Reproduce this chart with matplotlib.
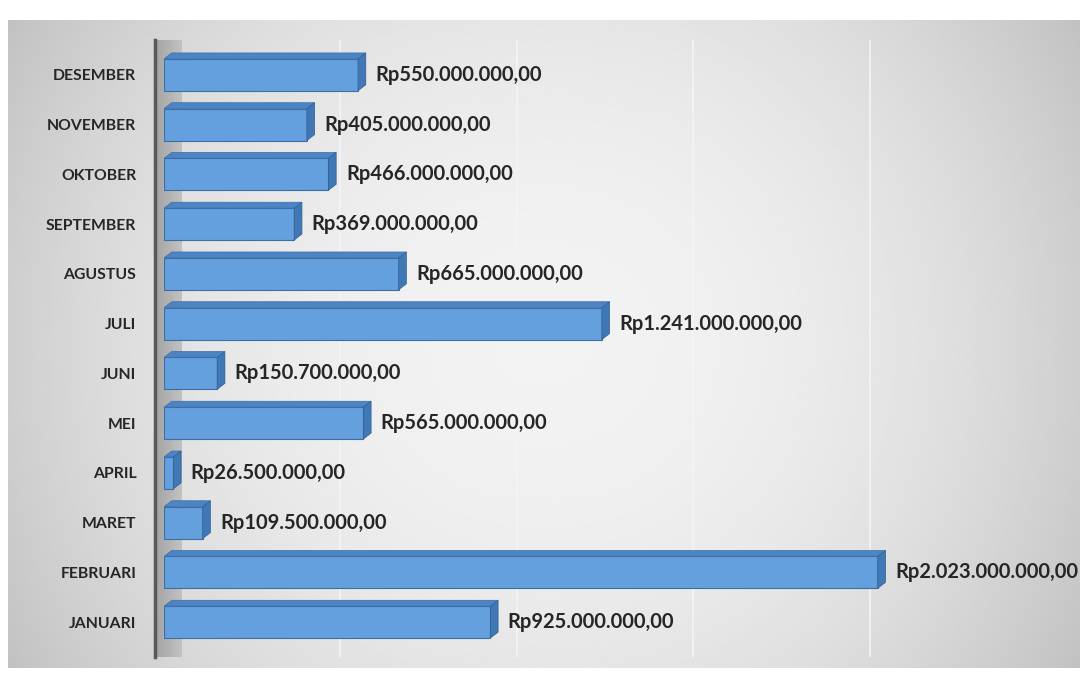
import numpy as np
import matplotlib
matplotlib.use("Agg")
import matplotlib.pyplot as plt
from matplotlib.patches import Polygon
from matplotlib.lines import Line2D

months = ["JANUARI", "FEBRUARI", "MARET", "APRIL", "MEI", "JUNI",
          "JULI", "AGUSTUS", "SEPTEMBER", "OKTOBER", "NOVEMBER", "DESEMBER"]
values = [925.0e6, 2023.0e6, 109.5e6, 26.5e6, 565.0e6, 150.7e6,
          1241.0e6, 665.0e6, 369.0e6, 466.0e6, 405.0e6, 550.0e6]


def rupiah(v):
    s = f"{v:,.2f}"
    return "Rp" + s.replace(",", "X").replace(".", ",").replace("X", ".")


W, H = 1085, 681
fig = plt.figure(figsize=(W / 100, H / 100), dpi=100)
fig.patch.set_facecolor("white")

# grey gradient chart area
bg = fig.add_axes([8 / W, 1 - 668 / H, (1080 - 8) / W, (668 - 20) / H])
gx = np.linspace(-1, 1, 400)
gy = np.linspace(-1, 1, 250)
X, Y = np.meshgrid(gx, gy)
shade = 0.95 - 0.14 * np.abs(X) ** 2.2 - 0.05 * np.abs(Y) ** 2
bg.imshow(shade, cmap="gray", vmin=0, vmax=1, aspect="auto",
          extent=[0, 1, 0, 1])
bg.set_axis_off()

top_px, bot_px = 40, 657

# side wall strip
wall = fig.add_axes([155 / W, 1 - bot_px / H, 27 / W, (bot_px - top_px) / H])
wx = np.linspace(0, 1, 30)
wall.imshow(np.tile(0.64 + 0.12 * wx, (10, 1)), cmap="gray", vmin=0, vmax=1,
            aspect="auto", extent=[0, 1, 0, 1])
wall.set_axis_off()

ax = fig.add_axes([164 / W, 1 - bot_px / H, 882 / W, (bot_px - top_px) / H])
ax.set_facecolor("none")
ax.set_xlim(0, 2.5e9)
ax.set_ylim(-0.70, 11.70)

for gxv in [5e8, 1e9, 1.5e9, 2e9]:
    ax.axvline(gxv, color="#f4f4f4", lw=1.2, zorder=0)

y = np.arange(len(months))
h = 0.64
dx = 2.2e7
dy = 0.12
ax.barh(y, values, height=h, color="#65a0de", edgecolor="#3b6ea5",
        linewidth=0.8, zorder=3)
for yi, v in zip(y, values):
    top = Polygon([(0, yi + h / 2), (dx, yi + h / 2 + dy),
                   (v + dx, yi + h / 2 + dy), (v, yi + h / 2)],
                  closed=True, facecolor="#4d84c4", edgecolor="#3b6ea5",
                  lw=0.5, zorder=2)
    end = Polygon([(v, yi - h / 2), (v + dx, yi - h / 2 + dy),
                   (v + dx, yi + h / 2 + dy), (v, yi + h / 2)],
                  closed=True, facecolor="#3f78b5", edgecolor="#2f5f94",
                  lw=0.5, zorder=4)
    ax.add_patch(top)
    ax.add_patch(end)
    ax.annotate(rupiah(v), (v + dx, yi), xytext=(7, 0),
                textcoords="offset points", va="center", ha="left",
                fontsize=14.5, fontweight="bold", color="#262626",
                family="Lato", zorder=5)

ax.set_yticks(y)
ax.set_yticklabels(months, fontsize=11.3, fontweight="bold",
                   color="#262626", family="Lato")
ax.tick_params(axis="y", length=0, pad=20)
ax.set_xticks([])
for s in ax.spines.values():
    s.set_visible(False)

fig.add_artist(Line2D([155 / W, 155 / W], [1 - bot_px / H, 1 - top_px / H],
                      color="#595959", lw=2.5))

fig.savefig("out.png", dpi=100)
